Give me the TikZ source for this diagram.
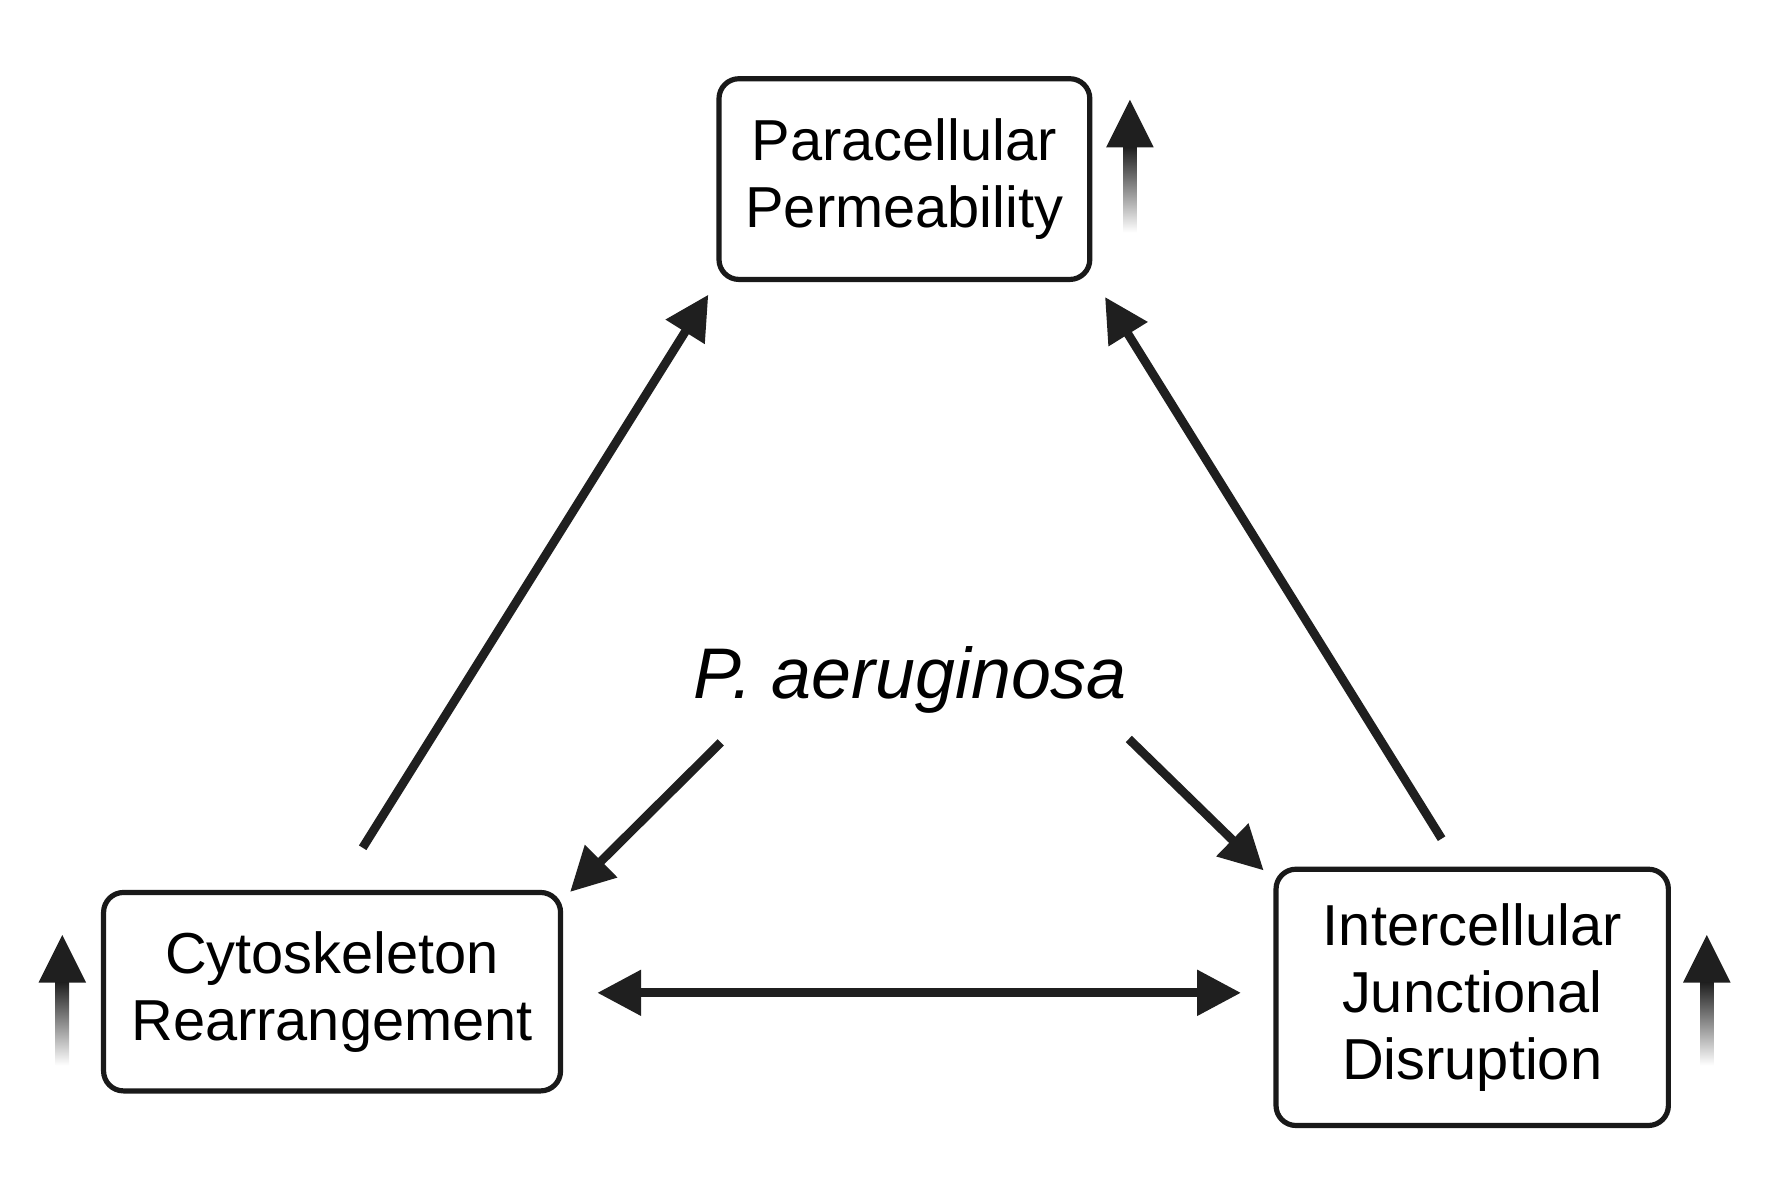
\documentclass[tikz,border=0pt]{standalone}
\usepackage{fontspec}
\setmainfont{Liberation Sans}
\usetikzlibrary{arrows.meta}
\begin{document}
\begin{tikzpicture}[x=0.01cm,y=-0.01cm,
  box/.style={draw=black!90,line width=1.3pt,rounded corners=5pt,align=center,inner sep=0pt,font=\fontsize{14.5}{16.8}\selectfont},
  tip/.style={Triangle[length=11pt,width=11pt]},
  arr/.style={line width=2.2pt,draw=black!88,-{Triangle[length=11pt,width=11pt]}},
  up/.style={top color=black!90,bottom color=white,draw=none}]
\useasboundingbox (0,0) rectangle (1560,1038);
\node[box,minimum width=3.27cm,minimum height=1.77cm] (pp) at (798,158) {Paracellular\\Permeability};
\node[box,minimum width=4.03cm,minimum height=1.75cm] (cr) at (293,875) {Cytoskeleton\\Rearrangement};
\node[box,minimum width=3.46cm,minimum height=2.26cm] (ij) at (1299,880) {Intercellular\\Junctional\\Disruption};
\node[font=\fontsize{18}{22}\selectfont\itshape] (pa) at (803,600) {P. aeruginosa};
\coordinate (a1) at (320,748); \coordinate (a2) at (625,260);
\coordinate (b1) at (1272,740); \coordinate (b2) at (975,262);
\coordinate (c1) at (636,655); \coordinate (c2) at (503,787);
\coordinate (d1) at (996,652); \coordinate (d2) at (1115,768);
\coordinate (e1) at (527,876); \coordinate (e2) at (1095,876);
\draw[arr] (a1) -- (a2);
\draw[arr] (b1) -- (b2);
\draw[arr] (c1) -- (c2);
\draw[arr] (d1) -- (d2);
\draw[arr,{Triangle[length=11pt,width=11pt]}-{Triangle[length=11pt,width=11pt]}] (e1) -- (e2);
\foreach \x/\yt/\yb in {997/88/205, 55/825/940, 1506/825/940}{
  \shade[up] (\x-6,\yt+40) rectangle (\x+6,\yb);
  \fill[black!88] (\x-21,\yt+42) -- (\x,\yt) -- (\x+21,\yt+42) -- cycle;
}
\end{tikzpicture}
\end{document}
